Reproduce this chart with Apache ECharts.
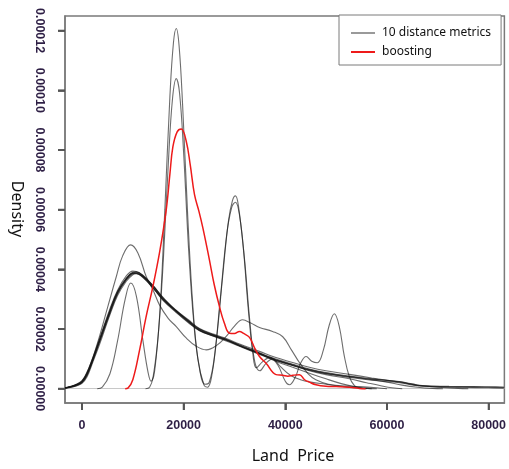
<!DOCTYPE html>
<html>
<head>
<meta charset="utf-8">
<script src="https://cdn.jsdelivr.net/npm/echarts@6/dist/echarts.min.js"></script>
<style>html,body{margin:0;padding:0;background:#fff}#c{width:509px;height:469px}</style>
</head>
<body>
<div id="c"></div>
<script>
// Density values below are in units of 1e-5 (multiplied by DENSITY_UNIT when building series)
const DENSITY_UNIT = 1e-5;
const X_MIN = -3340, X_MAX = 83100;
const Y_MIN = -0.0000048, Y_MAX = 0.0001249;
const xTicks = [0, 20000, 40000, 60000, 80000];
const yTicks = [0, 0.00002, 0.00004, 0.00006, 0.00008, 0.00010, 0.00012];
const seriesNames = ['10 distance metrics', 'boosting'];
const xTitle = 'Land  Price';
const yTitle = 'Density';

const bundle1 = [[-3300,0.02],[-2000,0.07],[-1000,0.12],[0,0.2],[1000,0.45],[2160,0.97],[3500,1.6],[5440,2.53],[7000,3.2],[8720,3.65],[10000,3.85],[10700,3.87],[12000,3.75],[13950,3.42],[16000,3.0],[18550,2.59],[21000,2.25],[23120,1.97],[26000,1.78],[28370,1.64],[31000,1.45],[34920,1.19],[38000,0.98],[41450,0.8],[44730,0.64],[48000,0.52],[52600,0.41],[57000,0.32],[62420,0.24],[65000,0.16],[67000,0.1],[72230,0.08],[77000,0.07],[81420,0.06],[83000,0.05]];
const bundle2 = [[-3300,0.03],[-2000,0.09],[-1000,0.16],[0,0.27],[1000,0.55],[2160,1.05],[3500,1.7],[5440,2.65],[7000,3.3],[8720,3.78],[10000,3.94],[10700,3.93],[12000,3.78],[13950,3.4],[16000,2.95],[18550,2.55],[21000,2.2],[23120,1.95],[26000,1.75],[28370,1.6],[31000,1.42],[34920,1.15],[38000,0.95],[41450,0.78],[44730,0.6],[48000,0.47],[52600,0.33],[56000,0.2],[59000,0.09],[61000,0.03],[63000,0]];
const bundle3 = [[-3300,0.01],[-2000,0.05],[-1000,0.1],[0,0.18],[1000,0.4],[2160,0.9],[3500,1.5],[5440,2.45],[7000,3.12],[8720,3.6],[10000,3.82],[10700,3.85],[12000,3.76],[13950,3.45],[16000,3.05],[18550,2.62],[21000,2.3],[23120,2.02],[26000,1.82],[28370,1.68],[31000,1.5],[34920,1.25],[38000,1.05],[41450,0.88],[44730,0.72],[48000,0.6],[52600,0.48],[57000,0.36],[62420,0.22],[66000,0.12],[70000,0.05],[74000,0.01],[76000,0]];
const bundle4 = [[-3300,0.02],[-2000,0.08],[-1000,0.14],[0,0.23],[1000,0.5],[2160,1.0],[3500,1.65],[5440,2.58],[7000,3.25],[8720,3.7],[10000,3.88],[10700,3.88],[12000,3.74],[13950,3.38],[16000,2.98],[18550,2.6],[21000,2.27],[23120,2.0],[26000,1.8],[28370,1.65],[31000,1.45],[34920,1.17],[38000,0.93],[41450,0.72],[44730,0.52],[48000,0.33],[51000,0.17],[53500,0.07],[55500,0.02],[57000,0]];
const bundle5 = [[-3300,0.02],[-2000,0.06],[-1000,0.11],[0,0.21],[1000,0.47],[2160,0.95],[3500,1.58],[5440,2.5],[7000,3.18],[8720,3.66],[10000,3.88],[10700,3.9],[12000,3.79],[13950,3.45],[16000,3.02],[18550,2.62],[21000,2.27],[23120,1.99],[26000,1.79],[28370,1.66],[31000,1.47],[34920,1.2],[38000,1.0],[41450,0.82],[44730,0.66],[48000,0.54],[52600,0.42],[57000,0.33],[62420,0.23],[65000,0.14],[67000,0.09],[72230,0.07],[77000,0.06],[81420,0.05],[83000,0.05]];
const bundle6 = [[-3300,0.03],[-2000,0.08],[-1000,0.15],[0,0.25],[1000,0.52],[2160,1.02],[3500,1.66],[5440,2.6],[7000,3.26],[8720,3.7],[10000,3.86],[10700,3.86],[12000,3.72],[13950,3.38],[16000,2.97],[18550,2.57],[21000,2.22],[23120,1.94],[26000,1.76],[28370,1.62],[31000,1.43],[34920,1.17],[38000,0.96],[41450,0.78],[44730,0.62],[48000,0.5],[52600,0.38],[57000,0.28],[62420,0.2],[66000,0.1],[70000,0.06],[75000,0.04],[80000,0.03],[83000,0.02]];
const bundle7 = [[-3300,0.02],[-2000,0.07],[-1000,0.13],[0,0.22],[1000,0.48],[2160,0.98],[3500,1.62],[5440,2.55],[7000,3.22],[8720,3.68],[10000,3.9],[10700,3.92],[12000,3.8],[13950,3.46],[16000,3.03],[18550,2.6],[21000,2.24],[23120,1.96],[26000,1.77],[28370,1.63],[31000,1.44],[34920,1.18],[38000,0.97],[41450,0.79],[44730,0.63],[48000,0.51],[52600,0.4],[57000,0.3],[60000,0.22],[63000,0.12],[66000,0.05],[69000,0.01],[71000,0]];
const bimodalCurve = [[-3300,0.02],[-1500,0.1],[0,0.25],[1500,0.75],[3000,1.5],[5000,2.7],[6760,3.76],[8000,4.45],[9570,4.82],[11000,4.55],[12650,3.75],[14000,3.3],[15270,2.8],[17000,2.35],[18550,2.08],[20500,1.7],[22500,1.42],[24440,1.3],[26500,1.45],[28370,1.75],[30000,2.1],[31600,2.31],[33200,2.2],[34920,2.05],[37500,1.92],[39500,1.74],[41200,1.3],[42800,0.87],[44500,0.5],[46000,0.3],[48500,0.15],[51000,0.1],[54600,0.07],[58000,0.03],[60000,0]];
const spikyCurve1 = [[3000,0],[4000,0.05],[5500,0.5],[7000,1.6],[8500,3.0],[9600,3.54],[10700,3.1],[12000,1.6],[13000,0.55],[13600,0.25],[14300,0.6],[15300,2.5],[16300,6.0],[17300,9.8],[18000,11.6],[18550,12.07],[19100,11.5],[19800,9.5],[20800,5.8],[21800,2.8],[22800,1.0],[24000,0.12],[24700,0.05],[25500,0.4],[26500,1.7],[27700,3.8],[28800,5.6],[29600,6.3],[30200,6.46],[30800,6.1],[31800,4.6],[32700,2.7],[33600,1.2],[34300,0.7],[35500,0.9],[37000,1.05],[38500,0.8],[40000,0.25],[40800,0.13],[42000,0.4],[43000,0.85],[44100,1.08],[45200,0.92],[46300,0.87],[47500,1.3],[48600,2.1],[49650,2.51],[50600,2.1],[51600,1.1],[52600,0.4],[53600,0.1],[54500,0.02],[56000,0]];
const spikyCurve2 = [[12500,0],[13300,0.05],[14000,0.4],[15000,1.8],[16000,4.3],[17000,7.6],[17800,9.7],[18550,10.39],[19200,9.9],[20000,7.9],[21000,4.6],[22000,2.2],[23000,0.8],[24200,0.15],[25000,0.2],[26000,1.0],[27200,3.0],[28500,5.2],[29500,6.1],[30200,6.25],[31000,5.8],[32000,4.3],[33000,2.3],[34000,0.9],[35000,0.6],[36200,0.85],[37500,1.0],[39000,0.75],[41000,0.45],[43000,0.3],[45000,0.22],[48000,0.15],[52000,0.06],[56000,0.01],[58000,0]];
const boostingCurve = [[8500,0],[9040,0.02],[10000,0.3],[11340,1.3],[12600,2.4],[13950,3.42],[15300,4.6],[16580,6.0],[17300,7.2],[17880,8.1],[18700,8.6],[19530,8.7],[20500,8.3],[21300,7.5],[22140,6.5],[23000,5.95],[23770,5.4],[24500,4.8],[25090,4.3],[26000,3.5],[27050,2.75],[28000,2.2],[29020,1.86],[30000,1.85],[30980,1.92],[31800,1.85],[32950,1.72],[34000,1.35],[34920,1.08],[36220,0.85],[38190,0.47],[39490,0.45],[40500,0.42],[41500,0.45],[42770,0.47],[43800,0.3],[44730,0.22],[46050,0.13],[48010,0.08],[50000,0.07],[52600,0.05],[54560,0.01],[55800,0]];

const grayCurves = [bundle1, bundle2, bundle3, bundle4, bundle5, bundle6, bundle7, bimodalCurve, spikyCurve1, spikyCurve2];

const toData = c => c.map(p => [p[0], p[1] * DENSITY_UNIT]);
const TICK_LEN = 7;
const tickStyle = { stroke: '#555', lineWidth: 1.8 };

const series = grayCurves.map((c, i) => ({
  name: seriesNames[0], type: 'line', data: toData(c), symbol: 'none', showSymbol: false,
  smooth: 0.4, clip: true,
  lineStyle: { color: 'rgba(20,20,20,0.62)', width: 1.1 }, itemStyle: { color: '#666' },
  z: 3,
  markLine: i === 0 ? {
    silent: true, symbol: ['none', 'none'], label: { show: false },
    lineStyle: { color: '#c8c8c8', width: 1, type: 'solid' },
    data: [{ yAxis: 0 }], z: 1
  } : undefined
}));
series.push({
  name: seriesNames[1], type: 'line', data: toData(boostingCurve), symbol: 'none', showSymbol: false,
  smooth: 0.4, clip: true,
  lineStyle: { color: '#ee1a1a', width: 1.5 }, itemStyle: { color: '#ee1a1a' }, z: 4
});
// outward tick marks, positioned through the axes' own scales
series.push({
  name: 'xTickMarks', type: 'custom', silent: true, clip: false, z: 6,
  data: xTicks.map(v => [v, Y_MIN]),
  renderItem: (params, api) => {
    const p = api.coord([api.value(0), api.value(1)]);
    return { type: 'line', shape: { x1: p[0], y1: p[1], x2: p[0], y2: p[1] + TICK_LEN }, style: tickStyle };
  }
});
series.push({
  name: 'yTickMarks', type: 'custom', silent: true, clip: false, z: 6,
  data: yTicks.map(v => [X_MIN, v]),
  renderItem: (params, api) => {
    const p = api.coord([api.value(0), api.value(1)]);
    return { type: 'line', shape: { x1: p[0] - TICK_LEN, y1: p[1], x2: p[0], y2: p[1] }, style: tickStyle };
  }
});

const axisGray = '#7a7a7a';
const chart = echarts.init(document.getElementById('c'), null, { renderer: 'canvas' });
chart.setOption({
  animation: false,
  tooltip: { show: false },
  grid: { left: 65, right: 4, top: 16, bottom: 66, show: true, borderColor: axisGray, borderWidth: 1.5 },
  graphic: [
    { type: 'text', x: 293, y: 456, z: 10,
      style: { text: xTitle, align: 'center', verticalAlign: 'middle', fontFamily: 'Noto Sans', fontSize: 16, fill: '#111' } },
    { type: 'text', x: 17, y: 209, rotation: -Math.PI / 2, z: 10,
      style: { text: yTitle, align: 'center', verticalAlign: 'middle', fontFamily: 'Noto Sans', fontSize: 16, fill: '#111' } }
  ],
  legend: {
    data: [
      { name: seriesNames[0], itemStyle: { color: '#9a9a9a' } },
      { name: seriesNames[1], itemStyle: { color: '#ee1a1a' } }
    ],
    icon: 'rect',
    orient: 'vertical', left: 339, top: 15,
    padding: [11, 10, 6, 12], itemGap: 5, itemWidth: 24, itemHeight: 2,
    borderColor: axisGray, borderWidth: 1, backgroundColor: '#fff',
    textStyle: { fontFamily: 'Noto Sans', fontSize: 12, lineHeight: 14, color: '#111', padding: [0, 0, 0, 2] }
  },
  xAxis: {
    type: 'value', min: X_MIN, max: X_MAX,
    axisLine: { show: true, onZero: false, lineStyle: { color: axisGray, width: 1.5 } },
    axisTick: { show: true, length: TICK_LEN, customValues: xTicks, lineStyle: { color: '#555', width: 1.8 } },
    axisLabel: { customValues: xTicks, margin: 16, fontFamily: 'Liberation Sans', fontWeight: 'bold', fontSize: 12.5, color: '#2e1f45',
      formatter: v => String(Math.round(v)) },
    splitLine: { lineStyle: { color: 'rgba(0,0,0,0)' } }
  },
  yAxis: {
    type: 'value', min: Y_MIN, max: Y_MAX,
    axisLine: { show: true, onZero: false, lineStyle: { color: axisGray, width: 1.5 } },
    axisTick: { show: true, length: TICK_LEN, customValues: yTicks, lineStyle: { color: '#555', width: 1.8 } },
    axisLabel: { customValues: yTicks, rotate: -90, margin: 19, fontFamily: 'Liberation Sans', fontWeight: 'bold', fontSize: 12.5, color: '#2e1f45',
      formatter: v => v.toFixed(5) },
    splitLine: { lineStyle: { color: 'rgba(0,0,0,0)' } }
  },
  series: series
});
</script>
</body>
</html>
